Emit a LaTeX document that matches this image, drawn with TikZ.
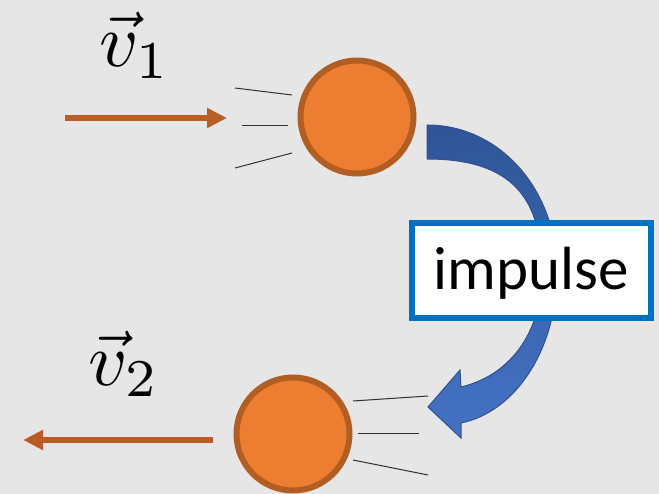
\documentclass[tikz,border=0pt]{standalone}
\usepackage{graphicx}
\usepackage{fontspec}
\setmainfont{Carlito}
\usetikzlibrary{arrows.meta}
\definecolor{bg}{HTML}{E7E6E6}
\definecolor{ballfill}{HTML}{ED7D31}
\definecolor{ballline}{HTML}{B25E22}
\definecolor{velo}{HTML}{B85D24}
\definecolor{arrtop}{HTML}{2F5597}
\definecolor{arrbot}{HTML}{4472C4}
\definecolor{arrline}{HTML}{2F528F}
\definecolor{boxline}{HTML}{0070C0}
\tikzset{
  ball/.style={circle, minimum size=113pt, inner sep=0pt, fill=ballfill, draw=ballline, line width=6pt},
  velarrow/.style={draw=velo, line width=6pt, -{Triangle[length=20pt,width=19pt]}},
  speedline/.style={draw=black!80, line width=1pt},
  impbox/.style={rectangle, draw=boxline, fill=white, line width=6pt, minimum width=239pt, minimum height=95pt, inner sep=0pt, text height=46pt, text depth=7pt, font=\fontsize{61}{61}\selectfont},
  vlabel/.style={inner sep=0pt, anchor=base west}
}
\begin{document}
\begin{tikzpicture}[x=1pt,y=-1pt]
\fill[bg] (0,0) rectangle (659,494);
\useasboundingbox (0,0) rectangle (659,494);
% velocity arrows
\coordinate (a1s) at (65,118);
\coordinate (a1e) at (227,118);
\coordinate (a2s) at (213,440);
\coordinate (a2e) at (23,440);
\draw[velarrow] (a1s) -- (a1e);
\draw[velarrow] (a2s) -- (a2e);
% labels
\node[vlabel] (v1) at (99,67) {\scalebox{7.6}{$\vec{v}_1$}};
\node[vlabel] (v2) at (88,385) {\scalebox{7.6}{$\vec{v}_2$}};
% speed lines ball 1
\coordinate (s1a) at (235,88);  \coordinate (s1b) at (292,95);
\coordinate (s2a) at (242,126); \coordinate (s2b) at (288,126);
\coordinate (s3a) at (235,168); \coordinate (s3b) at (292,153);
\draw[speedline] (s1a) -- (s1b);
\draw[speedline] (s2a) -- (s2b);
\draw[speedline] (s3a) -- (s3b);
% speed lines ball 2
\coordinate (t1a) at (353,401); \coordinate (t1b) at (428,396);
\coordinate (t2a) at (358,433); \coordinate (t2b) at (419,433);
\coordinate (t3a) at (353,460); \coordinate (t3b) at (428,475);
\draw[speedline] (t1a) -- (t1b);
\draw[speedline] (t2a) -- (t2b);
\draw[speedline] (t3a) -- (t3b);
% balls
\node[ball] (b1) at (357,117) {};
\node[ball] (b2) at (293,434) {};
% curved impulse arrow
\path[top color=arrtop, bottom color=arrbot, draw=arrline, line width=1pt]
  (427,125) .. controls (500,125) and (557,190) .. (557,272)
  .. controls (557,350) and (515,412) .. (461,423)
  -- (461,438) -- (428,407) -- (460,370) -- (461,387)
  .. controls (508,376) and (542,335) .. (542,272)
  .. controls (542,198) and (512,159) .. (427,159) -- cycle;
% impulse box
\node[impbox] (imp) at (531.5,270.5) {impulse};
\end{tikzpicture}
\end{document}
